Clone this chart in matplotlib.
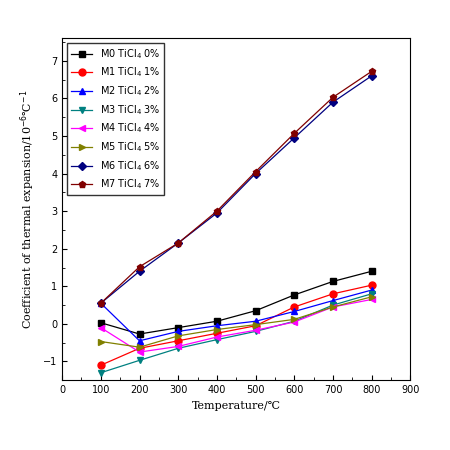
import matplotlib
matplotlib.use("Agg")
import matplotlib.pyplot as plt

temps = [100, 200, 300, 400, 500, 600, 700, 800]
m0 = [0.03, -0.27, -0.1, 0.07, 0.35, 0.77, 1.13, 1.4]
m1 = [-1.1, -0.65, -0.45, -0.25, -0.05, 0.45, 0.8, 1.03]
m2 = [0.55, -0.45, -0.2, -0.05, 0.07, 0.33, 0.62, 0.9]
m3 = [-1.3, -0.97, -0.65, -0.42, -0.2, 0.07, 0.5, 0.8]
m4 = [-0.1, -0.75, -0.6, -0.35, -0.17, 0.05, 0.45, 0.65]
m5 = [-0.47, -0.62, -0.32, -0.15, -0.02, 0.12, 0.45, 0.72]
m6 = [0.55, 1.4, 2.15, 2.95, 4.0, 4.95, 5.9, 6.6]
m7 = [0.55, 1.52, 2.15, 3.0, 4.05, 5.07, 6.03, 6.72]
labels = ["M0 TiCl$_4$ 0%", "M1 TiCl$_4$ 1%", "M2 TiCl$_4$ 2%", "M3 TiCl$_4$ 3%",
          "M4 TiCl$_4$ 4%", "M5 TiCl$_4$ 5%", "M6 TiCl$_4$ 6%", "M7 TiCl$_4$ 7%"]
series = [m0, m1, m2, m3, m4, m5, m6, m7]
colors = ["black", "red", "blue", "teal", "magenta", "olive", "navy", "maroon"]
markers = ["s", "o", "^", "v", "<", ">", "D", "p"]
sizes = [5, 5, 5, 5, 5, 5, 4.2, 5]

fig = plt.figure(figsize=(4.5, 4.5), dpi=100)
ax = fig.add_axes([0.138, 0.155, 0.774, 0.76])
for s, l, c, m, ms in zip(series, labels, colors, markers, sizes):
    ax.plot(temps, s, color=c, marker=m, markersize=ms, linewidth=0.9, label=l)
ax.set_xlim(0, 900)
ax.set_ylim(-1.5, 7.6)
ax.set_xticks(range(0, 901, 100))
ax.set_yticks(range(-1, 8))
ax.set_xticks(range(50, 900, 100), minor=True)
ax.set_yticks([x + 0.5 for x in range(-2, 8)], minor=True)
ax.tick_params(labelsize=7, direction="in", which="both")
ax.tick_params(which="minor", length=2)
ax.set_xlabel("Temperature/℃", fontsize=8, family="DejaVu Serif")
ax.set_ylabel("Coefficient of thermal expansion/10$^{-6}$℃$^{-1}$", fontsize=8, family="DejaVu Serif")
ax.legend(loc="upper left", fontsize=7, frameon=True, fancybox=False, edgecolor="black",
          handlelength=2.2, labelspacing=0.5)
fig.savefig("out.png")
